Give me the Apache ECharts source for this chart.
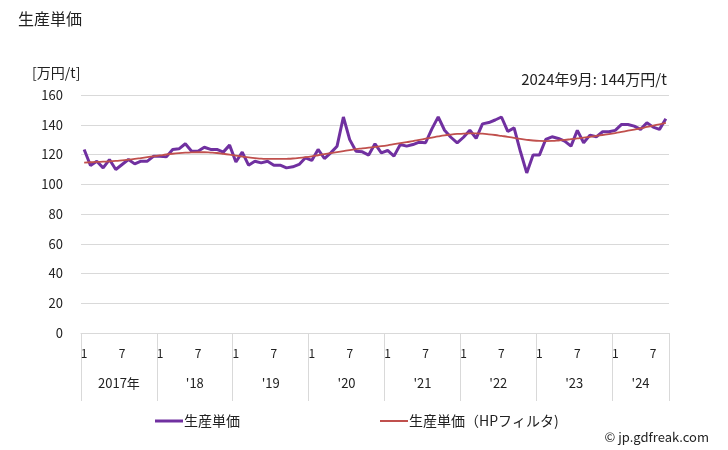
<!DOCTYPE html>
<html>
<head>
<meta charset="utf-8">
<script src="https://cdn.jsdelivr.net/npm/echarts@6/dist/echarts.min.js"></script>
<style>
html,body{margin:0;padding:0;background:#fff;}
#main{width:728px;height:450px;}
</style>
</head>
<body>
<div id="main"></div>
<script>
// ---- data ----
const years = [2017, 2018, 2019, 2020, 2021, 2022, 2023, 2024];
const monthsPerYear = [12, 12, 12, 12, 12, 12, 12, 9];
const yearLabels = ['2017年', "'18", "'19", "'20", "'21", "'22", "'23", "'24"];
const monthTickLabels = [1, 7];
const yTicks = [0, 20, 40, 60, 80, 100, 120, 140, 160];

const unitPrice = [
  123.4, 112.6, 115.5, 111.0, 116.6, 109.9, 113.3, 116.6, 113.7, 115.5, 115.5, 118.9,
  118.9, 118.4, 123.4, 123.8, 127.2, 122.2, 122.2, 124.9, 123.4, 123.4, 121.6, 126.3,
  115.0, 121.6, 112.8, 115.5, 114.4, 115.5, 112.8, 112.8, 111.0, 111.7, 113.3, 117.8,
  116.0, 123.4, 117.3, 121.1, 125.6, 145.2, 130.0, 122.2, 121.8, 119.6, 127.2, 121.1,
  122.7, 118.9, 126.7, 125.6, 126.7, 128.3, 127.9, 137.2, 145.3, 136.3, 131.6, 127.8,
  131.6, 136.3, 130.9, 140.6, 141.5, 143.2, 145.2, 135.5, 137.9, 122.0, 107.6, 119.6,
  119.6, 130.1, 131.9, 130.8, 129.0, 125.6, 136.2, 127.9, 133.0, 131.9, 135.3, 135.3,
  136.2, 140.2, 140.2, 139.1, 136.9, 141.3, 138.4, 136.9, 144.0
];
const unitPriceHP = [
  114.6, 114.8, 115.0, 115.2, 115.4, 115.7, 116.1, 116.5, 117.0, 117.6, 118.2, 118.8,
  119.4, 120.0, 120.5, 120.9, 121.2, 121.4, 121.5, 121.5, 121.3, 121.0, 120.5, 119.9,
  119.2, 118.6, 118.0, 117.5, 117.2, 117.0, 117.0, 117.0, 117.1, 117.3, 117.7, 118.2,
  118.8, 119.5, 120.2, 120.9, 121.6, 122.3, 123.0, 123.6, 124.1, 124.6, 125.1, 125.6,
  126.2, 126.9, 127.6, 128.3, 129.0, 129.8, 130.6, 131.4, 132.2, 132.9, 133.4, 133.8,
  134.1, 134.2, 134.2, 134.0, 133.6, 133.1, 132.5, 131.9, 131.2, 130.5, 129.9, 129.4,
  129.1, 129.0, 129.1, 129.4, 129.8, 130.3, 130.8, 131.3, 131.9, 132.5, 133.1, 133.7,
  134.4, 135.2, 136.0, 136.8, 137.6, 138.5, 139.4, 140.3, 141.2
];

// ---- derived categories / axis helpers ----
const categories = [];
const yearStarts = [];
const yearCenters = [];
years.forEach((y, yi) => {
  yearStarts.push(categories.length);
  yearCenters.push(categories.length + monthsPerYear[yi] / 2);
  for (let m = 1; m <= monthsPerYear[yi]; m++) categories.push(y + '-' + m);
});
const totalMonths = categories.length;
const dividerValues = yearStarts.concat([totalMonths]);

const FONT = '"Noto Sans CJK JP", "Noto Sans", sans-serif';
const TXT = '#222';

const chart = echarts.init(document.getElementById('main'), null, {renderer: 'canvas'});
chart.setOption({
  backgroundColor: '#fff',
  animation: false,
  textStyle: {fontFamily: FONT},
  title: [
    {text: '生産単価', left: 13, top: 6, textStyle: {fontSize: 16, fontWeight: 'normal', color: TXT, fontFamily: FONT}},
    {text: '[万円/t]', left: 27, top: 61, textStyle: {fontSize: 14, fontWeight: 'normal', color: TXT, fontFamily: FONT}},
    {text: '2024年9月: 144万円/t', right: 56, top: 67, textStyle: {fontSize: 15, fontWeight: 'normal', color: TXT, fontFamily: FONT}},
    {text: '© jp.gdfreak.com', right: 14, top: 426, textStyle: {fontSize: 13, fontWeight: 'normal', color: TXT, fontFamily: FONT}}
  ],
  legend: {
    left: 150, top: 409,
    itemGap: 140,
    itemWidth: 28, itemHeight: 3,
    icon: 'rect',
    textStyle: {fontSize: 14, color: TXT, fontFamily: FONT, padding: [0, 0, 0, -4]},
    data: [
      {name: '生産単価', itemStyle: {color: '#7030a0'}},
      {name: '生産単価（HPフィルタ)', itemStyle: {color: '#c0504d'}, icon: 'path://M0,0H28V2H0Z'}
    ]
  },
  grid: {left: 81, right: 59, top: 95, bottom: 117, containLabel: false},
  xAxis: [
    {
      type: 'category',
      data: categories,
      boundaryGap: true,
      axisLine: {show: true, lineStyle: {color: '#d9d9d9', width: 1}},
      axisTick: {show: false},
      splitLine: {show: false},
      axisLabel: {
        interval: function (idx, val) {
          const m = +val.split('-')[1];
          return monthTickLabels.indexOf(m) >= 0;
        },
        formatter: function (val) { return val.split('-')[1]; },
        fontSize: 12, color: TXT, margin: 14, fontFamily: FONT
      }
    },
    {
      type: 'value',
      min: 0, max: totalMonths,
      position: 'bottom',
      axisLine: {show: false},
      splitLine: {show: false},
      axisTick: {show: true, customValues: dividerValues, length: 68, lineStyle: {color: '#d9d9d9', width: 1}},
      axisLabel: {
        customValues: yearCenters,
        formatter: function (v) {
          const i = yearCenters.findIndex(c => Math.abs(c - v) < 0.01);
          return i >= 0 ? yearLabels[i] : '';
        },
        fontSize: 13, color: TXT, margin: 44, fontFamily: FONT
      }
    }
  ],
  yAxis: {
    type: 'value',
    min: yTicks[0], max: yTicks[yTicks.length - 1], interval: 20,
    axisLine: {show: false},
    axisTick: {show: false},
    splitLine: {lineStyle: {color: '#d9d9d9', width: 1}},
    axisLabel: {fontSize: 13, color: TXT, margin: 18, fontFamily: FONT}
  },
  series: [
    {
      name: '生産単価', type: 'line', xAxisIndex: 0, data: unitPrice,
      symbol: 'none', lineStyle: {color: '#7030a0', width: 3}, itemStyle: {color: '#7030a0'}, z: 3
    },
    {
      name: '生産単価（HPフィルタ)', type: 'line', xAxisIndex: 0, data: unitPriceHP,
      symbol: 'none', smooth: true, lineStyle: {color: '#c0504d', width: 1.8}, itemStyle: {color: '#c0504d'}, z: 4
    }
  ]
});
</script>
</body>
</html>
